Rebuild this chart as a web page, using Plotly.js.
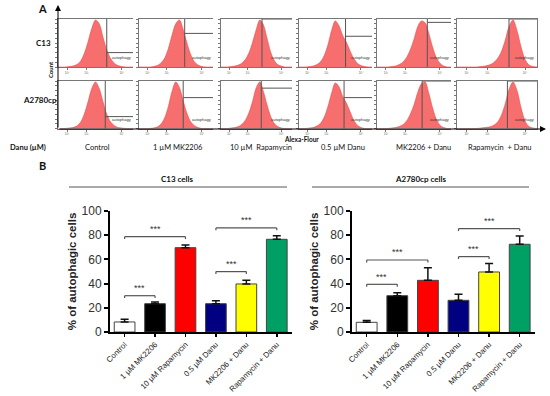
<!DOCTYPE html>
<html>
<head>
<meta charset="utf-8">
<script src="https://cdn.plot.ly/plotly-3.0.1.min.js"></script>
<style>html,body{margin:0;padding:0;background:#fff;}#chart{width:550px;height:396px;}</style>
</head>
<body>
<div id="chart"></div>
<script>
// ---------------- DATA ----------------
const categories = ['Control', '1 µM MK2206', '10 µM Rapamycin', '0.5 µM Danu', 'MK2206 + Danu', 'Rapamycin + Danu'];
const c13Mean = [8.3, 23.4, 69.7, 23.4, 39.7, 76.6];
const c13Err  = [2.2, 1.4, 2.2, 2.5, 3.0, 3.0];
const a2780Mean = [8.0, 30.0, 42.7, 26.2, 49.6, 72.5];
const a2780Err  = [1.6, 2.5, 10.5, 4.9, 7.1, 6.8];
const c13Sig   = [[0, 1, 30.0], [0, 2, 78.8], [3, 4, 49.9], [3, 5, 86.0]];
const a2780Sig = [[0, 1, 39.4], [0, 2, 59.5], [3, 4, 62.3], [3, 5, 85.4]];
const barColors = ['#ffffff', '#000000', '#ff0000', '#000080', '#ffff00', '#00a065'];

const rowLabels = ['C13', 'A2780cp'];
const colLabels = ['Control', '1 µM MK2206', '10 µM  Rapamycin', '0.5 µM Danu', 'MK2206 + Danu', 'Rapamycin  + Danu'];
// flow histogram bins (fraction of log fluorescence axis) and counts (% of max)
const histBins = [0, 0.05, 0.1, 0.15, 0.2, 0.25, 0.3, 0.35, 0.4, 0.45, 0.5, 0.55, 0.6, 0.65, 0.7, 0.75, 0.8, 0.85, 0.9, 0.95, 1.0];
const histC13 = [
  [0,0,0,1,2,5,12,28,52,80,98,90,62,36,18,8,3,1,0,0,0],
  [0,0,0,0,1,3,8,18,38,66,90,98,78,50,26,11,4,1,0,0,0],
  [0,0,0,1,2,4,8,16,30,52,78,98,88,60,32,14,5,2,0,0,0],
  [0,0,0,1,2,5,11,24,46,76,96,86,66,52,34,18,8,3,1,0,0],
  [0,0,0,0,1,2,5,10,20,36,58,84,96,92,70,42,20,8,2,0,0],
  [0,0,0,0,0,0,1,2,4,8,16,30,54,84,98,76,42,16,4,1,0]
];
const histA2780 = [
  [0,0,0,1,2,5,13,30,56,84,98,84,56,30,14,6,2,1,0,0,0],
  [0,0,0,0,1,3,9,22,46,78,98,86,58,32,14,6,2,0,0,0,0],
  [0,0,0,1,2,4,9,18,34,58,86,98,78,50,26,11,4,1,0,0,0],
  [0,0,0,1,2,5,11,24,46,74,96,88,68,54,36,18,7,2,0,0,0],
  [0,0,0,0,1,2,4,8,16,30,50,76,94,98,74,44,20,7,2,0,0],
  [0,0,0,0,0,0,1,2,3,6,12,26,50,82,98,80,44,16,4,1,0]
];
const gateC13 = [0.65, 0.62, 0.58, 0.64, 0.68, 0.65];
const gateLevelC13 = [30, 70, 100, 64, 93, 100];
const gateA2780 = [0.63, 0.60, 0.57, 0.62, 0.61, 0.63];
const gateLevelA2780 = [25, 65, 85, 65, 100, 100];
const histTickVals = [0.12, 0.38, 0.85];
const histTickText = ['10²', '10³', '10⁴'];

// ---------------- LAYOUT HELPERS ----------------
const W = 550, H = 396;
const dx = (a, b) => [a / W, b / W];
const dy = (top, bottom) => [1 - bottom / H, 1 - top / H];
const px = v => v / W;
const py = v => 1 - v / H;
const axName = (p, n) => p + 'axis' + (n === 1 ? '' : n);
const axRef = (p, n) => p + (n === 1 ? '' : n);

const colL = [58, 138.5, 220.5, 298.5, 377, 457];
const colR = [133, 213, 292, 372, 451, 537];
const rowT = [19, 81];
const rowB = [67, 128.5];

const traces = [];
const shapes = [];
const annotations = [];
const layout = {
  width: W, height: H,
  margin: {l: 0, r: 0, t: 0, b: 0},
  paper_bgcolor: '#fff', plot_bgcolor: 'rgba(0,0,0,0)',
  showlegend: false,
  font: {family: 'Liberation Sans, Arial, sans-serif', color: '#222'}
};

// ---------------- PANEL A : histograms ----------------
const histSets = [histC13, histA2780];
const gateSets = [gateC13, gateA2780];
const gateLevelSets = [gateLevelC13, gateLevelA2780];
for (let r = 0; r < 2; r++) {
  for (let c = 0; c < 6; c++) {
    const n = r * 6 + c + 1;
    traces.push({
      type: 'scatter', mode: 'lines', x: histBins, y: histSets[r][c],
      line: {shape: 'spline', smoothing: 0.9, color: '#f04848', width: 0.6},
      fill: 'tozeroy', fillcolor: 'rgba(245,90,90,0.88)',
      xaxis: axRef('x', n), yaxis: axRef('y', n), hoverinfo: 'skip'
    });
    layout[axName('x', n)] = {
      domain: dx(colL[c], colR[c]), anchor: axRef('y', n), range: [0, 1],
      showgrid: false, zeroline: false, showline: true, mirror: true,
      linecolor: '#777', linewidth: 1, ticks: 'outside', ticklen: 2, tickcolor: '#777',
      tickvals: histTickVals, ticktext: histTickText,
      tickfont: {size: 3, color: '#666'}, fixedrange: true
    };
    layout[axName('y', n)] = {
      domain: dy(rowT[r], rowB[r]), anchor: axRef('x', n), range: [0, 100],
      showgrid: false, zeroline: false, showline: true, mirror: c === 5,
      linecolor: '#777', linewidth: 1, ticks: 'outside', ticklen: 2, tickcolor: '#777',
      dtick: 10, showticklabels: false, fixedrange: true
    };
    const g = gateSets[r][c], lvl = gateLevelSets[r][c];
    shapes.push({type: 'line', xref: axRef('x', n), yref: axRef('y', n), x0: g, x1: g, y0: 0, y1: 100,
      line: {color: '#555', width: 1}});
    shapes.push({type: 'line', xref: axRef('x', n), yref: axRef('y', n), x0: g, x1: 1, y0: lvl, y1: lvl,
      line: {color: '#555', width: 1}});
    annotations.push({xref: axRef('x', n), yref: axRef('y', n), x: 0.84, y: 20, text: 'autophagy',
      showarrow: false, font: {size: 4, color: '#333'}});
  }
}
// axis arrows
annotations.push({xref: 'paper', yref: 'paper', x: px(58), y: py(5), ax: 0, ay: 124, axref: 'pixel', ayref: 'pixel',
  text: '', showarrow: true, arrowhead: 2, arrowsize: 1.2, arrowwidth: 1, arrowcolor: '#000'});
annotations.push({xref: 'paper', yref: 'paper', x: px(546), y: py(129), ax: -488, ay: 0, axref: 'pixel', ayref: 'pixel',
  text: '', showarrow: true, arrowhead: 2, arrowsize: 1.2, arrowwidth: 1, arrowcolor: '#000'});

const lato = 'Lato, Open Sans, sans-serif';
function txt(x, y, t, size, opts) {
  annotations.push(Object.assign({xref: 'paper', yref: 'paper', x: px(x), y: py(y), text: t, showarrow: false,
    font: {family: lato, size: size, color: '#111'}, xanchor: 'center', yanchor: 'middle'}, opts || {}));
}
txt(42, 8, '<b>A</b>', 11);
txt(43, 43, '<b>' + rowLabels[0] + '</b>', 8);
txt(40, 100, '<b>' + rowLabels[1] + '</b>', 8);
txt(50, 70, '<b>Count</b>', 6, {textangle: -90});
txt(282, 139, '<b>Alexa-Flour</b>', 6.5, {xanchor: 'left'});
txt(8, 147, '<b>Danu (µM)</b>', 7.5, {xanchor: 'left'});
const colLabelX = [97, 178, 261, 343, 423, 500];
for (let c = 0; c < 6; c++) txt(colLabelX[c], 147, colLabels[c], 7.5);

// ---------------- PANEL B : bar charts ----------------
txt(42, 165, '<b>B</b>', 11);
txt(177, 179, '<b>C13 cells</b>', 8);
txt(420, 179, '<b>A2780cp cells</b>', 8);
shapes.push({type: 'line', xref: 'paper', yref: 'paper', x0: px(69), x1: px(287), y0: py(187), y1: py(187), line: {color: '#aaa', width: 2}});
shapes.push({type: 'line', xref: 'paper', yref: 'paper', x0: px(312), x1: px(529), y0: py(187), y1: py(187), line: {color: '#aaa', width: 2}});

const barSets = [
  {n: 13, mean: c13Mean, err: c13Err, sig: c13Sig, xd: dx(110, 292)},
  {n: 14, mean: a2780Mean, err: a2780Err, sig: a2780Sig, xd: dx(352, 535)}
];
const arial = 'Liberation Sans, Arial, sans-serif';
barSets.forEach(b => {
  traces.push({
    type: 'bar', x: categories, y: b.mean,
    marker: {color: barColors, line: {color: '#444', width: 1}},
    error_y: {type: 'data', symmetric: false, array: b.err, arrayminus: b.mean.map(() => 0),
      color: '#111', thickness: 1.5, width: 4},
    xaxis: axRef('x', b.n), yaxis: axRef('y', b.n), hoverinfo: 'skip'
  });
  layout[axName('x', b.n)] = {
    domain: b.xd, anchor: axRef('y', b.n), type: 'category', range: [-0.48, 5.5],
    showgrid: false, zeroline: false, showline: true, linecolor: '#000', linewidth: 2,
    ticks: 'outside', ticklen: 3, tickwidth: 1.5, tickcolor: '#000',
    tickangle: -45, tickfont: {family: arial, size: 7.8, color: '#222'}, fixedrange: true
  };
  layout[axName('y', b.n)] = {
    domain: dy(211, 332), anchor: axRef('x', b.n), range: [0, 100],
    tickvals: [0, 20, 40, 60, 80, 100],
    showgrid: false, zeroline: false, showline: true, linecolor: '#000', linewidth: 2,
    ticks: 'outside', ticklen: 4, tickwidth: 2, tickcolor: '#000',
    tickfont: {family: arial, size: 12, color: '#333'},
    title: {text: '<b>% of autophagic cells</b>', font: {family: arial, size: 11.5, color: '#222'}, standoff: 3},
    fixedrange: true
  };
  b.sig.forEach(s => {
    const [i, j, h] = s;
    const xr = axRef('x', b.n), yr = axRef('y', b.n);
    const ln = {color: '#555', width: 1.2};
    shapes.push({type: 'line', xref: xr, yref: yr, x0: i, x1: j, y0: h, y1: h, line: ln});
    shapes.push({type: 'line', xref: xr, yref: yr, x0: i, x1: i, y0: h - 2, y1: h, line: ln});
    shapes.push({type: 'line', xref: xr, yref: yr, x0: j, x1: j, y0: h - 2, y1: h, line: ln});
    annotations.push({xref: xr, yref: yr, x: (i + j) / 2, y: h + 0.5, text: '***', showarrow: false,
      yanchor: 'bottom', font: {family: arial, size: 9, color: '#333'}});
  });
});
layout.bargap = 0.32;
layout.shapes = shapes;
layout.annotations = annotations;

Plotly.newPlot('chart', traces, layout, {displayModeBar: false, staticPlot: true});
</script>
</body>
</html>
